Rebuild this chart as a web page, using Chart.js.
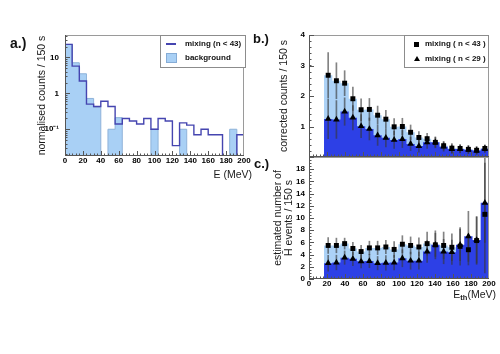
<!DOCTYPE html>
<html>
<head>
<meta charset="utf-8">
<script src="https://cdn.jsdelivr.net/npm/chart.js@4.4.1/dist/chart.umd.min.js"></script>
<style>
html,body{margin:0;padding:0;background:#fff;}
#wrap{position:relative;width:500px;height:354px;overflow:hidden;background:#fff;font-family:"Liberation Sans",Arial,sans-serif;color:#111;}
#wrap canvas{position:absolute;left:0;top:0;}
.t{position:absolute;white-space:nowrap;}
.pl{font-weight:bold;font-size:13px;line-height:13px;}
.leg{position:absolute;border:1px solid #8c8c8c;background:#fff;box-sizing:border-box;}
.lt{position:absolute;font-weight:bold;font-size:8px;line-height:8px;white-space:nowrap;color:#111;}
.ax{font-size:10.5px;line-height:11px;color:#1a1a1a;}
</style>
</head>
<body>
<div id="wrap">
  <canvas id="cA" width="500" height="354"></canvas>
  <canvas id="cB" width="500" height="354"></canvas>
  <canvas id="cC" width="500" height="354"></canvas>

  <div class="t pl" style="left:10px;top:36px;font-size:14px;line-height:14px">a.)</div>
  <div class="t pl" style="left:253px;top:32px">b.)</div>
  <div class="t pl" style="left:254px;top:157px">c.)</div>

  <div class="t ax" style="right:248px;top:168.5px">E (MeV)</div>
  <div class="t ax" style="right:4px;top:288.5px">E<span style="font-size:7.5px;font-weight:bold;position:relative;top:2.5px">th</span>(MeV)</div>

  <div class="leg" style="left:160px;top:35px;width:86px;height:33px"></div>
  <div class="t" style="left:166px;top:43px;width:10px;height:2px;background:#4545b0"></div>
  <div class="lt" style="left:185px;top:40px">mixing (n &lt; 43)</div>
  <div class="t" style="left:166px;top:53px;width:11px;height:10px;background:#a9d0f5;border:1px solid #86acd6;box-sizing:border-box"></div>
  <div class="lt" style="left:185px;top:54px">background</div>

  <div class="leg" style="left:404px;top:35px;width:85px;height:33px"></div>
  <div class="t" style="left:414px;top:41.5px;width:5px;height:5px;background:#000"></div>
  <div class="lt" style="left:425px;top:40px">mixing ( n &lt; 43 )</div>
  <div class="t" style="left:413.5px;top:56px;width:0;height:0;border-left:3px solid transparent;border-right:3px solid transparent;border-bottom:5px solid #000"></div>
  <div class="lt" style="left:425px;top:55px">mixing ( n &lt; 29 )</div>
</div>
<script>
// ---------------- data ----------------
// panel a : 8 MeV bins
const edgesA = [0, 8, 16, 24, 32, 40, 48, 56, 64, 72, 80, 88, 96, 104, 112, 120, 128, 136, 144, 152, 160, 168, 176, 184, 192, 200];
const mixingA = [23, 5.7, 2.2, 0.5, 0.43, 0.6, 0.43, 0.14, 0.2, 0.17, 0.14, 0.2, 0.1, 0.2, 0.17, 0.035, 0.15, 0.13, 0.07, 0.1, 0.07, 0.07, 0, 0, 0.07];
const backgroundA = [23, 7.1, 3.5, 0.72, 0.41, 0, 0.1, 0.21, 0, 0, 0, 0, 0.1, 0, 0, 0, 0.1, 0, 0, 0, 0, 0, 0, 0.1, 0];

// panels b and c : threshold bins
const edgesBC = [16.7, 25.9, 35.0, 44.2, 53.3, 62.5, 71.7, 80.8, 90.0, 99.2, 108.3, 117.5, 126.7, 135.8, 145.0, 154.2, 163.3, 172.5, 181.7, 190.8, 200.0];

const corrN43 = [2.68, 2.50, 2.42, 1.91, 1.55, 1.56, 1.37, 1.24, 0.99, 1.00, 0.81, 0.64, 0.60, 0.48, 0.37, 0.29, 0.28, 0.25, 0.22, 0.28];
const corrN43Err = [0.74, 0.59, 0.41, 0.38, 0.36, 0.36, 0.30, 0.29, 0.27, 0.27, 0.24, 0.19, 0.18, 0.16, 0.14, 0.15, 0.13, 0.13, 0.12, 0.11];
const corrN29 = [1.25, 1.23, 1.49, 1.29, 1.01, 0.92, 0.71, 0.63, 0.56, 0.59, 0.43, 0.36, 0.48, 0.48, 0.34, 0.26, 0.26, 0.24, 0.21, 0.27];
const corrN29Err = [0.65, 0.62, 0.45, 0.40, 0.38, 0.36, 0.33, 0.30, 0.28, 0.28, 0.22, 0.20, 0.20, 0.18, 0.15, 0.14, 0.13, 0.12, 0.12, 0.12];

const estN43 = [5.5, 5.5, 5.8, 5.0, 4.5, 5.1, 5.1, 5.25, 4.85, 5.7, 5.5, 5.25, 5.8, 5.6, 5.5, 5.2, 5.35, 4.8, 6.3, 10.6];
const estN43Err = [1.3, 1.2, 0.9, 1.0, 1.0, 1.1, 1.1, 1.1, 1.3, 1.4, 1.4, 1.5, 1.9, 2.3, 2.2, 2.2, 3.1, 2.5, 3.9, 9.6];
const estN29 = [2.6, 2.7, 3.5, 3.3, 2.9, 2.95, 2.6, 2.65, 2.7, 3.4, 3.0, 3.0, 4.5, 5.6, 4.5, 4.4, 5.6, 7.0, 6.4, 12.5];
const estN29Err = [1.3, 1.2, 1.1, 1.1, 1.1, 1.1, 1.1, 1.2, 1.2, 1.4, 1.4, 1.4, 1.8, 1.9, 2.0, 2.0, 2.6, 4.1, 3.8, 6.5];

// tick labels
const ticksX = [0, 20, 40, 60, 80, 100, 120, 140, 160, 180, 200];
const ticksAy = [0.1, 1, 10];
const ticksAyLabels = ['10\u207B\u00B9', '1', '10'];
const ticksBy = [1, 2, 3, 4];
const ticksCy = [0, 2, 4, 6, 8, 10, 12, 14, 16, 18];

// ---------------- helpers ----------------
const FONT = '"Liberation Sans", Arial, sans-serif';
Chart.defaults.font.family = FONT;
Chart.defaults.color = '#111';

const LIGHT = '#acd2f7';
const DARK = '#2d40e6';
const ERR = 'rgba(55,55,55,0.62)';

function stepTable(edges, vals, floor) {
  const rows = vals.map((v, i) => ({x: edges[i], y: (floor !== undefined && !(v > 0)) ? floor : v}));
  rows.push({x: edges[edges.length - 1], y: rows[rows.length - 1].y});
  return rows;
}
function centers(edges) { return edges.slice(0, -1).map((e, i) => (e + edges[i + 1]) / 2); }
function pointTable(xs, vals) { return vals.map((v, i) => ({x: xs[i], y: v})); }
function errTable(xs, vals, errs) { return vals.map((v, i) => ({x: xs[i], y: [v - errs[i], v + errs[i]]})); }

function xScale(showLabels, h) {
  return {
    type: 'linear', min: 0, max: 200, offset: false,
    grid: {display: false, drawTicks: false, offset: false},
    border: {display: false},
    afterBuildTicks: s => { s.ticks = ticksX.map(v => ({value: v})); },
    ticks: {display: showLabels, padding: 0, maxRotation: 0, minRotation: 0, autoSkip: false, color: '#000',
            font: {size: 8, weight: 'bold'}},
    afterFit: s => { s.height = h; s.paddingLeft = 0; s.paddingRight = 0; }
  };
}
function yScale(type, min, max, vals, labels, title, w, lh, pad) {
  return {
    type, min, max,
    grid: {display: false, drawTicks: false},
    border: {display: false},
    afterBuildTicks: s => { s.ticks = vals.map(v => ({value: v})); },
    ticks: {padding: pad, autoSkip: false, color: '#000', font: {size: 8, weight: 'bold'},
            callback: (v, i) => labels[i]},
    title: {display: true, text: title, color: '#1a1a1a', padding: 0, font: {size: 10.5, lineHeight: lh}},
    afterFit: s => { s.width = w; s.paddingTop = 0; s.paddingBottom = 0; }
  };
}
function frameTicks(cfg) {
  return {
    id: 'frameTicks',
    afterDatasetsDraw(chart) {
      const {ctx, chartArea: a} = chart;
      const xs = chart.scales.x, ys = chart.scales.y;
      ctx.save();
      ctx.lineWidth = 1;
      ctx.strokeStyle = '#9a9a9a';
      ctx.strokeRect(a.left + 0.5, a.top + 0.5, a.right - a.left - 1, a.bottom - a.top - 1);
      ctx.strokeStyle = '#555';
      ctx.beginPath();
      ctx.moveTo(a.left + 0.5, a.top); ctx.lineTo(a.left + 0.5, a.bottom);
      ctx.moveTo(a.left, a.bottom - 0.5); ctx.lineTo(a.right, a.bottom - 0.5);
      const tick = (list, len, vertical) => list.forEach(v => {
        if (vertical) {
          const p = Math.round(xs.getPixelForValue(v)) + 0.5;
          if (p < a.left || p > a.right) return;
          ctx.moveTo(p, a.bottom); ctx.lineTo(p, a.bottom - len);
        } else {
          const p = Math.round(ys.getPixelForValue(v)) + 0.5;
          if (p < a.top - 1 || p > a.bottom + 1) return;
          ctx.moveTo(a.left, p); ctx.lineTo(a.left + len, p);
        }
      });
      tick(cfg.xMajor, 5, true);
      tick(cfg.xMinor, 2.5, true);
      tick(cfg.yMajor, 5, false);
      tick(cfg.yMinor, 2.5, false);
      ctx.stroke();
      ctx.restore();
    }
  };
}
const xMinor = [];
for (let v = 0; v <= 200; v += 4) xMinor.push(v);
const aYMinor = [];
[0.01, 0.1, 1, 10].forEach(d => { for (let k = 2; k <= 9; k++) aYMinor.push(k * d); });
const bYMinor = []; for (let v = 0; v <= 4.001; v += 0.2) bYMinor.push(v);
const cYMinor = []; for (let v = 0; v <= 20.001; v += 0.5) cYMinor.push(v);

// ---------------- panel a ----------------
const yMinA = 0.018;
new Chart(document.getElementById('cA'), {
  type: 'line',
  data: {
    datasets: [
      {label: 'background', data: stepTable(edgesA, backgroundA, yMinA), stepped: 'before', fill: 'start',
       backgroundColor: '#a9d0f5', borderColor: '#8fb3da', borderWidth: 1, pointRadius: 0, order: 2},
      {label: 'mixing (n < 43)', data: stepTable(edgesA, mixingA, yMinA), stepped: 'before', fill: false,
       borderColor: '#4545b0', borderWidth: 1.4, pointRadius: 0, order: 1}
    ]
  },
  options: {
    responsive: false, animation: false, devicePixelRatio: 1,
    layout: {padding: {left: 36, right: 256, top: 35, bottom: 178}},
    plugins: {legend: {display: false}, tooltip: {enabled: false}},
    scales: {
      x: xScale(true, 20),
      y: yScale('logarithmic', yMinA, 42, ticksAy, ticksAyLabels, 'normalised counts / 150 s', 29, 1.2, 6)
    }
  },
  plugins: [frameTicks({xMajor: ticksX, xMinor, yMajor: ticksAy, yMinor: aYMinor})]
});

// ---------------- panels b and c ----------------
const cBC = centers(edgesBC);
function panelDatasets(n43, n43e, n29, n29e) {
  return [
    {label: 'mixing ( n < 43 )', data: stepTable(edgesBC, n43), stepped: 'before', fill: 'origin',
     backgroundColor: LIGHT, borderColor: 'rgba(0,0,0,0)', borderWidth: 0, pointRadius: 0, order: 10},
    {label: 'mixing ( n < 29 )', data: stepTable(edgesBC, n29), stepped: 'before', fill: 'origin',
     backgroundColor: DARK, borderColor: 'rgba(0,0,0,0)', borderWidth: 0, pointRadius: 0, order: 9},
    {type: 'bar', label: 'err n<43', data: errTable(cBC, n43, n43e), barThickness: 1, grouped: false,
     backgroundColor: ERR, borderWidth: 0, order: 5},
    {type: 'bar', label: 'err n<29', data: errTable(cBC, n29, n29e), barThickness: 1, grouped: false,
     backgroundColor: ERR, borderWidth: 0, order: 4},
    {label: 'n<43 points', data: pointTable(cBC, n43), showLine: false, pointStyle: 'rect', pointRadius: 3.5,
     pointBackgroundColor: '#000', pointBorderWidth: 0, order: 2},
    {label: 'n<29 points', data: pointTable(cBC, n29), showLine: false, pointStyle: 'triangle', pointRadius: 3.8,
     pointBackgroundColor: '#000', pointBorderWidth: 0, order: 1}
  ];
}

new Chart(document.getElementById('cB'), {
  type: 'line',
  data: {datasets: panelDatasets(corrN43, corrN43Err, corrN29, corrN29Err)},
  options: {
    responsive: false, animation: false, devicePixelRatio: 1,
    layout: {padding: {left: 278, right: 11, top: 35, bottom: 187}},
    plugins: {legend: {display: false}, tooltip: {enabled: false}},
    scales: {
      x: xScale(false, 10),
      y: yScale('linear', 0, 4, ticksBy, ticksBy.map(String), 'corrected counts / 150 s', 31, 1.2, 4)
    }
  },
  plugins: [frameTicks({xMajor: ticksX, xMinor, yMajor: [0, 1, 2, 3, 4], yMinor: bYMinor})]
});

new Chart(document.getElementById('cC'), {
  type: 'line',
  data: {datasets: panelDatasets(estN43, estN43Err, estN29, estN29Err)},
  options: {
    responsive: false, animation: false, devicePixelRatio: 1,
    layout: {padding: {left: 273, right: 11, top: 157, bottom: 55}},
    plugins: {legend: {display: false}, tooltip: {enabled: false}},
    scales: {
      x: xScale(true, 20),
      y: yScale('linear', 0, 20, ticksCy, ticksCy.map(String),
                ['estimated number of', 'H\u0304 events / 150 s'], 36, 1.02, 4)
    }
  },
  plugins: [frameTicks({xMajor: ticksX, xMinor, yMajor: ticksCy.concat([20]), yMinor: cYMinor})]
});
</script>
</body>
</html>
